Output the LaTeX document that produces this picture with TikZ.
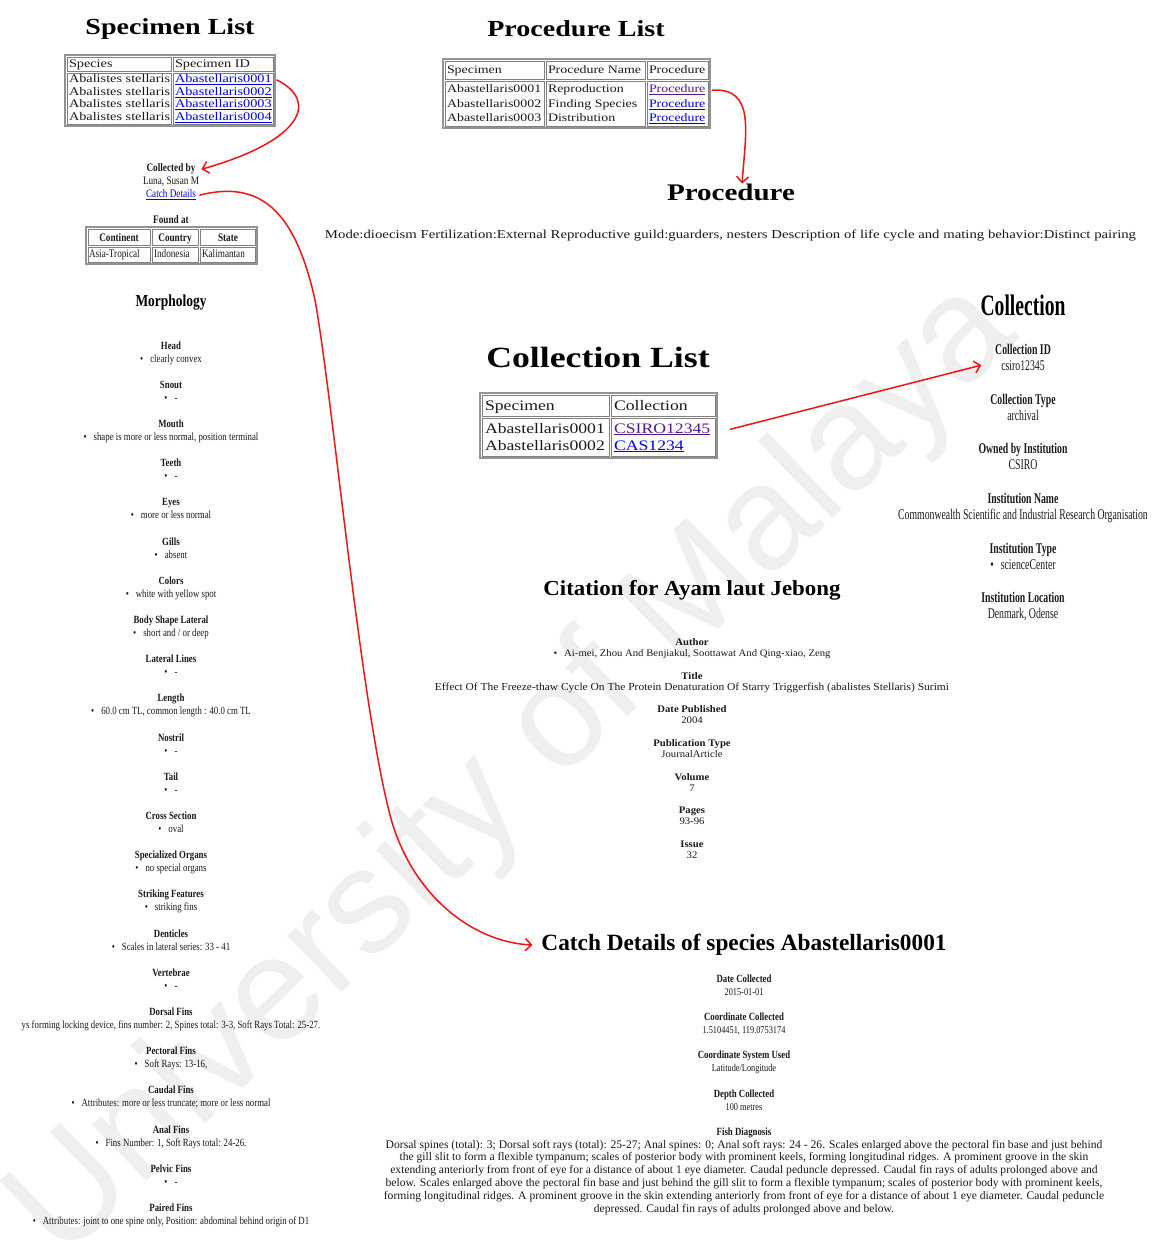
\documentclass[tikz,border=0pt]{standalone}
\usepackage{fontspec}
\setmainfont{Liberation Serif}
\newfontfamily\fwide[FakeStretch=1.22]{Liberation Serif}
\newfontfamily\fmid[FakeStretch=1.07]{Liberation Serif}
\newfontfamily\fcond[FakeStretch=0.8]{Liberation Serif}
\newfontfamily\fnarrow[FakeStretch=0.66]{Liberation Serif}
\newfontfamily\fmark{Liberation Sans}
\usetikzlibrary{arrows.meta}
\definecolor{linkblue}{HTML}{0000EE}
\definecolor{linkvisited}{HTML}{551A8B}
\definecolor{arrowred}{HTML}{F01414}
\definecolor{tablegray}{HTML}{808080}
\definecolor{inkblack}{HTML}{1A1A1A}
\definecolor{markgray}{HTML}{EFEFEF}
\newcommand\fsz[1]{\fontsize{#1}{#1}\selectfont}
\newcommand\lk[1]{\textcolor{linkblue}{\underline{#1}}}
\newcommand\lkv[1]{\textcolor{linkvisited}{\underline{#1}}}
\newcommand\bul{\textbullet\hspace{7pt}}
\tikzset{
  txt/.style={inner sep=0pt, outer sep=0pt, text=inkblack, anchor=base},
  lt/.style={txt, anchor=base west},
  cell/.style={draw=tablegray, line width=0.8pt},
  frame/.style={draw=tablegray!85, line width=1.4pt},
  conn/.style={draw=arrowred, line width=1.5pt, line cap=round,
    -{Straight Barb[length=6pt,width=12pt,line width=1.5pt]}},
  % morphology column
  mh/.style={txt, font=\fcond\bfseries\fsz{11}},
  mv/.style={txt, font=\fcond\fsz{11}},
  % collection detail column
  ch/.style={txt, font=\fnarrow\bfseries\fsz{14.8}},
  cv/.style={txt, font=\fnarrow\fsz{14.8}},
  % citation column
  ih/.style={txt, font=\fmid\bfseries\fsz{10}},
  iv/.style={txt, font=\fmid\fsz{10}},
  % catch details column
  kh/.style={txt, font=\fcond\bfseries\fsz{11}},
  kv/.style={txt, font=\fcond\fsz{10.4}},
}
% one morphology entry: name, index, heading, value
\newcommand\morph[4]{%
  \node[mh] (#1h) at (171,{349+39.2*#2}) {#3};
  \node[mv] (#1v) at (171,{362+39.2*#2}) {\bul #4};
}
\begin{document}
\begin{tikzpicture}[x=1pt,y=-1pt]
\path[use as bounding box, fill=white] (0,0) rectangle (1160,1249);

% watermark
\node[font=\fmark\fsz{148}, text=markgray, rotate=44, inner sep=0pt] (wm) at (515,772) {University of Malaya};

% ---------------- Specimen list ----------------
\node[txt, anchor=center, font=\fwide\bfseries\fsz{23}, text=black] (spTitle) at (170,29) {Specimen List};
\draw[frame] (65,55) rectangle (275,126);
\draw[cell] (67,57) rectangle (171,71) (173,57) rectangle (273,71)
            (67,73) rectangle (171,124) (173,73) rectangle (273,124);
\begin{scope}[every node/.style={lt, font=\fwide\fsz{11.7}}]
  \node (spH1) at (69,67.5) {Species};
  \node (spH2) at (175,67.5) {Specimen ID};
  \node (spS1) at (69,83) {Abalistes stellaris};
  \node (spS2) at (69,95.5) {Abalistes stellaris};
  \node (spS3) at (69,108) {Abalistes stellaris};
  \node (spS4) at (69,120.5) {Abalistes stellaris};
  \node (spId1) at (175,83) {\lk{Abastellaris0001}};
  \node (spId2) at (175,95.5) {\lk{Abastellaris0002}};
  \node (spId3) at (175,108) {\lk{Abastellaris0003}};
  \node (spId4) at (175,120.5) {\lk{Abastellaris0004}};
\end{scope}

% ---------------- Collector ----------------
\node[txt, font=\fcond\bfseries\fsz{11.5}] (collby) at (171,172) {Collected by};
\node[txt, font=\fcond\fsz{11.5}] (collname) at (171,185) {Luna, Susan M};
\node[txt, font=\fcond\fsz{11.5}] (catchlink) at (171,198) {\lk{Catch Details}};
\node[txt, font=\fcond\bfseries\fsz{11.5}] (foundat) at (171,224) {Found at};
\draw[frame] (86,227) rectangle (257,264);
\draw[cell] (88,229) rectangle (150,245) (152,229) rectangle (198,245) (200,229) rectangle (255,245)
            (88,247) rectangle (150,262) (152,247) rectangle (198,262) (200,247) rectangle (255,262);
\node[txt, font=\fcond\bfseries\fsz{11.5}] (fH1) at (119,241) {Continent};
\node[txt, font=\fcond\bfseries\fsz{11.5}] (fH2) at (175,241) {Country};
\node[txt, font=\fcond\bfseries\fsz{11.5}] (fH3) at (228,241) {State};
\node[lt, font=\fcond\fsz{11.5}] (fB1) at (89,258) {Asia-Tropical};
\node[lt, font=\fcond\fsz{11.5}] (fB2) at (154,258) {Indonesia};
\node[lt, font=\fcond\fsz{11.5}] (fB3) at (202,258) {Kalimantan};

% ---------------- Morphology ----------------
\node[txt, anchor=center, font=\fcond\bfseries\fsz{16.8}, text=black] (morphTitle) at (171,303) {Morphology};
\morph{mA}{0}{Head}{clearly convex}
\morph{mB}{1}{Snout}{-}
\morph{mC}{2}{Mouth}{shape is more or less normal, position terminal}
\morph{mD}{3}{Teeth}{-}
\morph{mE}{4}{Eyes}{more or less normal}
\morph{mF}{5}{Gills}{absent}
\morph{mG}{6}{Colors}{white with yellow spot}
\morph{mH}{7}{Body Shape Lateral}{short and / or deep}
\morph{mI}{8}{Lateral Lines}{-}
\morph{mJ}{9}{Length}{60.0 cm TL, common length : 40.0 cm TL}
\morph{mK}{10}{Nostril}{-}
\morph{mL}{11}{Tail}{-}
\morph{mM}{12}{Cross Section}{oval}
\morph{mN}{13}{Specialized Organs}{no special organs}
\morph{mO}{14}{Striking Features}{striking fins}
\morph{mP}{15}{Denticles}{Scales in lateral series: 33 - 41}
\morph{mQ}{16}{Vertebrae}{-}
\node[mh] (mRh) at (171,{349+39.2*17}) {Dorsal Fins};
\node[mv] (mRv) at (171,{362+39.2*17}) {ys forming locking device, fins number: 2, Spines total: 3-3, Soft Rays Total: 25-27.};
\morph{mS}{18}{Pectoral Fins}{Soft Rays: 13-16,}
\morph{mT}{19}{Caudal Fins}{Attributes: more or less truncate; more or less normal}
\morph{mU}{20}{Anal Fins}{Fins Number: 1, Soft Rays total: 24-26.}
\morph{mV}{21}{Pelvic Fins}{-}
\morph{mW}{22}{Paired Fins}{Attributes: joint to one spine only, Position: abdominal behind origin of D1}

% ---------------- Procedure list ----------------
\node[txt, anchor=center, font=\fwide\bfseries\fsz{23}, text=black] (prTitle) at (576,28.5) {Procedure List};
\draw[frame] (443,59) rectangle (710,128);
\draw[cell] (445,61) rectangle (544,79) (546,61) rectangle (645,79) (647,61) rectangle (708,79)
            (445,81) rectangle (544,126) (546,81) rectangle (645,126) (647,81) rectangle (708,126);
\begin{scope}[every node/.style={lt, font=\fwide\fsz{11.4}}]
  \node (prH1) at (447,74) {Specimen};
  \node (prH2) at (548,74) {Procedure Name};
  \node (prH3) at (649,74) {Procedure};
  \node (prS1) at (447,93) {Abastellaris0001};
  \node (prS2) at (447,107.5) {Abastellaris0002};
  \node (prS3) at (447,122) {Abastellaris0003};
  \node (prN1) at (548,93) {Reproduction};
  \node (prN2) at (548,107.5) {Finding Species};
  \node (prN3) at (548,122) {Distribution};
  \node (prL1) at (649,93) {\lkv{Procedure}};
  \node (prL2) at (649,107.5) {\lk{Procedure}};
  \node (prL3) at (649,122) {\lk{Procedure}};
\end{scope}

\node[txt, anchor=center, font=\fwide\bfseries\fsz{23.8}, text=black] (procHead) at (731,192) {Procedure};
\node[txt, anchor=center] (procText) at (730.5,236) {\resizebox{811pt}{!}{\fwide\fsz{11.6}Mode:dioecism Fertilization:External Reproductive guild:guarders, nesters Description of life cycle and mating behavior:Distinct pairing}};

% ---------------- Collection list ----------------
\node[txt, anchor=center, font=\fwide\bfseries\fsz{29.3}, text=black] (clTitle) at (598,357) {Collection List};
\draw[frame] (480,393) rectangle (717,458);
\draw[cell] (482,395) rectangle (609,416) (611,395) rectangle (715,416)
            (482,418) rectangle (609,456) (611,418) rectangle (715,456);
\begin{scope}[every node/.style={lt, font=\fwide\fsz{14.5}}]
  \node (clH1) at (485,410) {Specimen};
  \node (clH2) at (614,410) {Collection};
  \node (clS1) at (485,433) {Abastellaris0001};
  \node (clS2) at (485,450) {Abastellaris0002};
  \node (clL1) at (614,433) {\lkv{CSIRO12345}};
  \node (clL2) at (614,450) {\lk{CAS1234}};
\end{scope}

% ---------------- Collection details ----------------
\node[txt, anchor=center, font=\fnarrow\bfseries\fsz{29.7}, text=black] (colTitle) at (1023,305) {Collection};
\node[ch] (cAh) at (1023,354) {Collection ID};
\node[cv] (cAv) at (1023,370) {csiro12345};
\node[ch] (cBh) at (1023,404) {Collection Type};
\node[cv] (cBv) at (1023,420) {archival};
\node[ch] (cCh) at (1023,453) {Owned by Institution};
\node[cv] (cCv) at (1023,469) {CSIRO};
\node[ch] (cDh) at (1023,503) {Institution Name};
\node[cv] (cDv) at (1023,519) {Commonwealth Scientific and Industrial Research Organisation};
\node[ch] (cEh) at (1023,553) {Institution Type};
\node[cv] (cEv) at (1023,569) {\bul scienceCenter};
\node[ch] (cFh) at (1023,602) {Institution Location};
\node[cv] (cFv) at (1023,618) {Denmark, Odense};

% ---------------- Citation ----------------
\node[txt, anchor=center, font=\fmid\bfseries\fsz{21.4}, text=black] (citTitle) at (692,590) {Citation for Ayam laut Jebong};
\node[ih] (iAh) at (692,645.5) {Author};
\node[iv] (iAv) at (692,656.5) {\bul Ai-mei, Zhou And Benjiakul, Soottawat And Qing-xiao, Zeng};
\node[ih] (iBh) at (692,679.5) {Title};
\node[iv] (iBv) at (692,690.5) {\resizebox{514pt}{!}{Effect Of The Freeze-thaw Cycle On The Protein Denaturation Of Starry Triggerfish (abalistes Stellaris) Surimi}};
\node[ih] (iCh) at (692,712.5) {Date Published};
\node[iv] (iCv) at (692,723.5) {2004};
\node[ih] (iDh) at (692,746.5) {Publication Type};
\node[iv] (iDv) at (692,757.5) {JournalArticle};
\node[ih] (iEh) at (692,780.5) {Volume};
\node[iv] (iEv) at (692,791.5) {7};
\node[ih] (iFh) at (692,813.5) {Pages};
\node[iv] (iFv) at (692,824.5) {93-96};
\node[ih] (iGh) at (692,847.5) {Issue};
\node[iv] (iGv) at (692,858.5) {32};

% ---------------- Catch details ----------------
\node[txt, anchor=center, font=\bfseries\fsz{23.3}, text=black] (catchTitle) at (744,945) {Catch Details of species Abastellaris0001};
\node[kh] (kAh) at (744,982) {Date Collected};
\node[kv] (kAv) at (744,995) {2015-01-01};
\node[kh] (kBh) at (744,1020) {Coordinate Collected};
\node[kv] (kBv) at (744,1033) {1.5104451, 119.0753174};
\node[kh] (kCh) at (744,1058) {Coordinate System Used};
\node[kv] (kCv) at (744,1071) {Latitude/Longitude};
\node[kh] (kDh) at (744,1097) {Depth Collected};
\node[kv] (kDv) at (744,1110) {100 metres};
\node[kh] (kEh) at (744,1135) {Fish Diagnosis};
\node[kv, anchor=north, align=center, font=\fontsize{11.6}{12.8}\selectfont] (kEv) at (744,1140) {%
Dorsal spines (total): 3; Dorsal soft rays (total): 25-27; Anal spines: 0; Anal soft rays: 24 - 26. Scales enlarged above the pectoral fin base and just behind\\
the gill slit to form a flexible tympanum; scales of posterior body with prominent keels, forming longitudinal ridges. A prominent groove in the skin\\
extending anteriorly from front of eye for a distance of about 1 eye diameter. Caudal peduncle depressed. Caudal fin rays of adults prolonged above and\\
below. Scales enlarged above the pectoral fin base and just behind the gill slit to form a flexible tympanum; scales of posterior body with prominent keels,\\
forming longitudinal ridges. A prominent groove in the skin extending anteriorly from front of eye for a distance of about 1 eye diameter. Caudal peduncle\\
depressed. Caudal fin rays of adults prolonged above and below.};

% ---------------- Links between pages ----------------
\draw[conn] ([xshift=5pt]spId1.east) .. controls (318,100) and (305,140) .. ([xshift=6pt]collby.east);
\draw[conn] ([xshift=4pt]catchlink.east) .. controls (260,180) and (295,210) .. (315,300)
            .. controls (333,400) and (360,700) .. (390,815)
            .. controls (410,892) and (470,942) .. ([xshift=-9pt]catchTitle.west);
\draw[conn] ([xshift=7pt]prL1.east) .. controls (755,88) and (746,130) .. ([xshift=11pt]procHead.north);
\draw[conn] ([xshift=20pt]clL1.east) -- ([xshift=-20pt]cAv.west);
\end{tikzpicture}
\end{document}
